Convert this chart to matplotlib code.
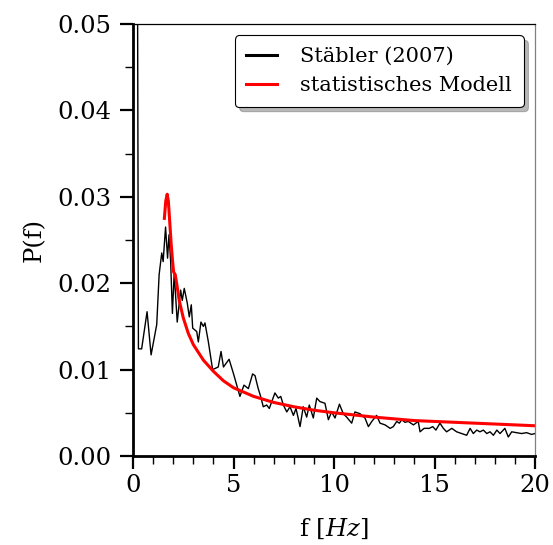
import numpy as np
import matplotlib
matplotlib.use("Agg")
from matplotlib import pyplot as plt
from matplotlib.ticker import MultipleLocator

f_meas = [0.22, 0.27, 0.43, 0.7, 0.9, 1.18, 1.3, 1.43, 1.5, 1.62, 1.72, 1.79, 1.87,
          1.96, 2.05, 2.2, 2.37, 2.45, 2.55, 2.7, 2.8, 2.9, 2.97, 3.17, 3.25, 3.38,
          3.5, 3.58, 3.75, 3.96, 4.24, 4.38, 4.5, 4.78, 4.99, 5.32, 5.52, 5.74, 5.95,
          6.07, 6.23, 6.35, 6.48, 6.65, 6.78, 7.06, 7.23, 7.35, 7.48, 7.65, 7.81,
          7.98, 8.11, 8.31, 8.47, 8.64, 8.77, 8.97, 9.14, 9.3, 9.55, 9.72, 9.88,
          10.05, 10.27, 10.46, 10.63, 10.88, 11.04, 11.29, 11.54, 11.71, 11.88,
          12.12, 12.29, 12.54, 12.79, 12.95, 13.12, 13.25, 13.37, 13.53, 13.7,
          13.95, 14.19, 14.28, 14.48, 14.74, 14.91, 15.07, 15.27, 15.44, 15.6,
          15.86, 16.1, 16.35, 16.6, 16.77, 16.93, 17.1, 17.26, 17.43, 17.6, 17.76,
          17.93, 18.1, 18.26, 18.5, 18.67, 18.84, 19.08, 19.33, 19.58, 19.83, 20.0]
p_meas = [0.060, 0.0124, 0.0124, 0.0167, 0.0117, 0.0152, 0.0210, 0.0235, 0.0225,
          0.0265, 0.0229, 0.0256, 0.0227, 0.0165, 0.0212, 0.0155, 0.0192, 0.0180,
          0.0194, 0.0177, 0.0161, 0.0175, 0.0148, 0.0144, 0.0132, 0.0155, 0.0150,
          0.0154, 0.0132, 0.0100, 0.0103, 0.0121, 0.0103, 0.0112, 0.0096, 0.0069,
          0.0082, 0.0078, 0.0095, 0.0093, 0.0078, 0.0069, 0.0057, 0.0059, 0.0055,
          0.0073, 0.0067, 0.0069, 0.0059, 0.0051, 0.0057, 0.0047, 0.0055, 0.0034,
          0.0057, 0.0045, 0.0059, 0.0044, 0.0067, 0.0063, 0.0061, 0.0042, 0.0051,
          0.0044, 0.0060, 0.0049, 0.0045, 0.0038, 0.0051, 0.0049, 0.0044, 0.0034,
          0.0040, 0.0047, 0.0038, 0.0036, 0.0032, 0.0034, 0.0040, 0.0038, 0.0042,
          0.0039, 0.0040, 0.0036, 0.0040, 0.0028, 0.0032, 0.0032, 0.0034, 0.0030,
          0.0038, 0.0032, 0.0028, 0.0032, 0.0028, 0.0026, 0.0024, 0.0032, 0.0026,
          0.0030, 0.0028, 0.0030, 0.0026, 0.0028, 0.0024, 0.0030, 0.0026, 0.0032,
          0.0022, 0.0028, 0.0027, 0.0026, 0.0027, 0.0025, 0.0026]

# statistical model
f_model = [1.56, 1.63, 1.70, 1.76, 1.83, 1.90, 1.97, 2.02, 2.10, 2.17, 2.3, 2.5,
           2.75, 3.0, 3.25, 3.5, 4.0, 4.5, 5.0, 6.0, 7.0, 8.0, 9.0, 10.0, 12.0,
           14.0, 16.0, 18.0, 20.0]
p_model = [0.0275, 0.0295, 0.0303, 0.0295, 0.0270, 0.0245, 0.0225, 0.0213, 0.0210,
           0.0200, 0.0180, 0.0160, 0.0142, 0.0129, 0.0120, 0.0111, 0.0098, 0.0087,
           0.0079, 0.0069, 0.0062, 0.0057, 0.0053, 0.0050, 0.0045, 0.0041, 0.0039,
           0.0037, 0.0035]

labels = ["Stäbler (2007)", "statistisches Modell"]

plt.rcParams['font.family'] = 'DejaVu Serif'
plt.rcParams['mathtext.fontset'] = 'dejavuserif'

fig = plt.figure(figsize=(5.53, 5.45), dpi=100)
ax = fig.add_axes([0.2405, 0.1633, 0.727, 0.7927])

ax.plot(f_meas, p_meas, color='black', lw=1.0, label=labels[0])
ax.plot(f_model, p_model, color='red', lw=2.2, label=labels[1])

ax.set_xlim(0, 20)
ax.set_ylim(0, 0.05)
ax.xaxis.set_major_locator(MultipleLocator(5))
ax.xaxis.set_minor_locator(MultipleLocator(1))
ax.yaxis.set_major_locator(MultipleLocator(0.01))
ax.yaxis.set_minor_locator(MultipleLocator(0.005))
ax.yaxis.set_major_formatter(matplotlib.ticker.FormatStrFormatter('%.2f'))

ax.tick_params(which='major', direction='out', length=9.5, width=1.6, labelsize=17.5,
               top=False, right=False)
ax.tick_params(axis='y', which='major', pad=6)
ax.tick_params(which='minor', direction='out', length=5.5, width=1.0,
               top=False, right=False)

for s in ['left', 'bottom']:
    ax.spines[s].set_linewidth(2.0)
ax.spines['top'].set_linewidth(0.9)
ax.spines['right'].set_linewidth(0.9)
ax.spines['right'].set_color('gray')

ax.set_xlabel(r'f $[Hz]$', fontsize=17.5, labelpad=14)
ax.set_ylabel('P(f)', fontsize=17.5, labelpad=8)

leg = ax.legend(loc='upper right', fontsize=15, shadow={'ox': 3.5, 'oy': -3.5, 'color': '0.45'},
                fancybox=True, framealpha=1, edgecolor='black', handlelength=1.5,
                handletextpad=1.1, borderaxespad=0.55, labelspacing=0.5, borderpad=0.55)
leg.get_frame().set_linewidth(0.8)
for h in leg.legend_handles:
    h.set_linewidth(2.2)

fig.savefig('out.png', dpi=100)
